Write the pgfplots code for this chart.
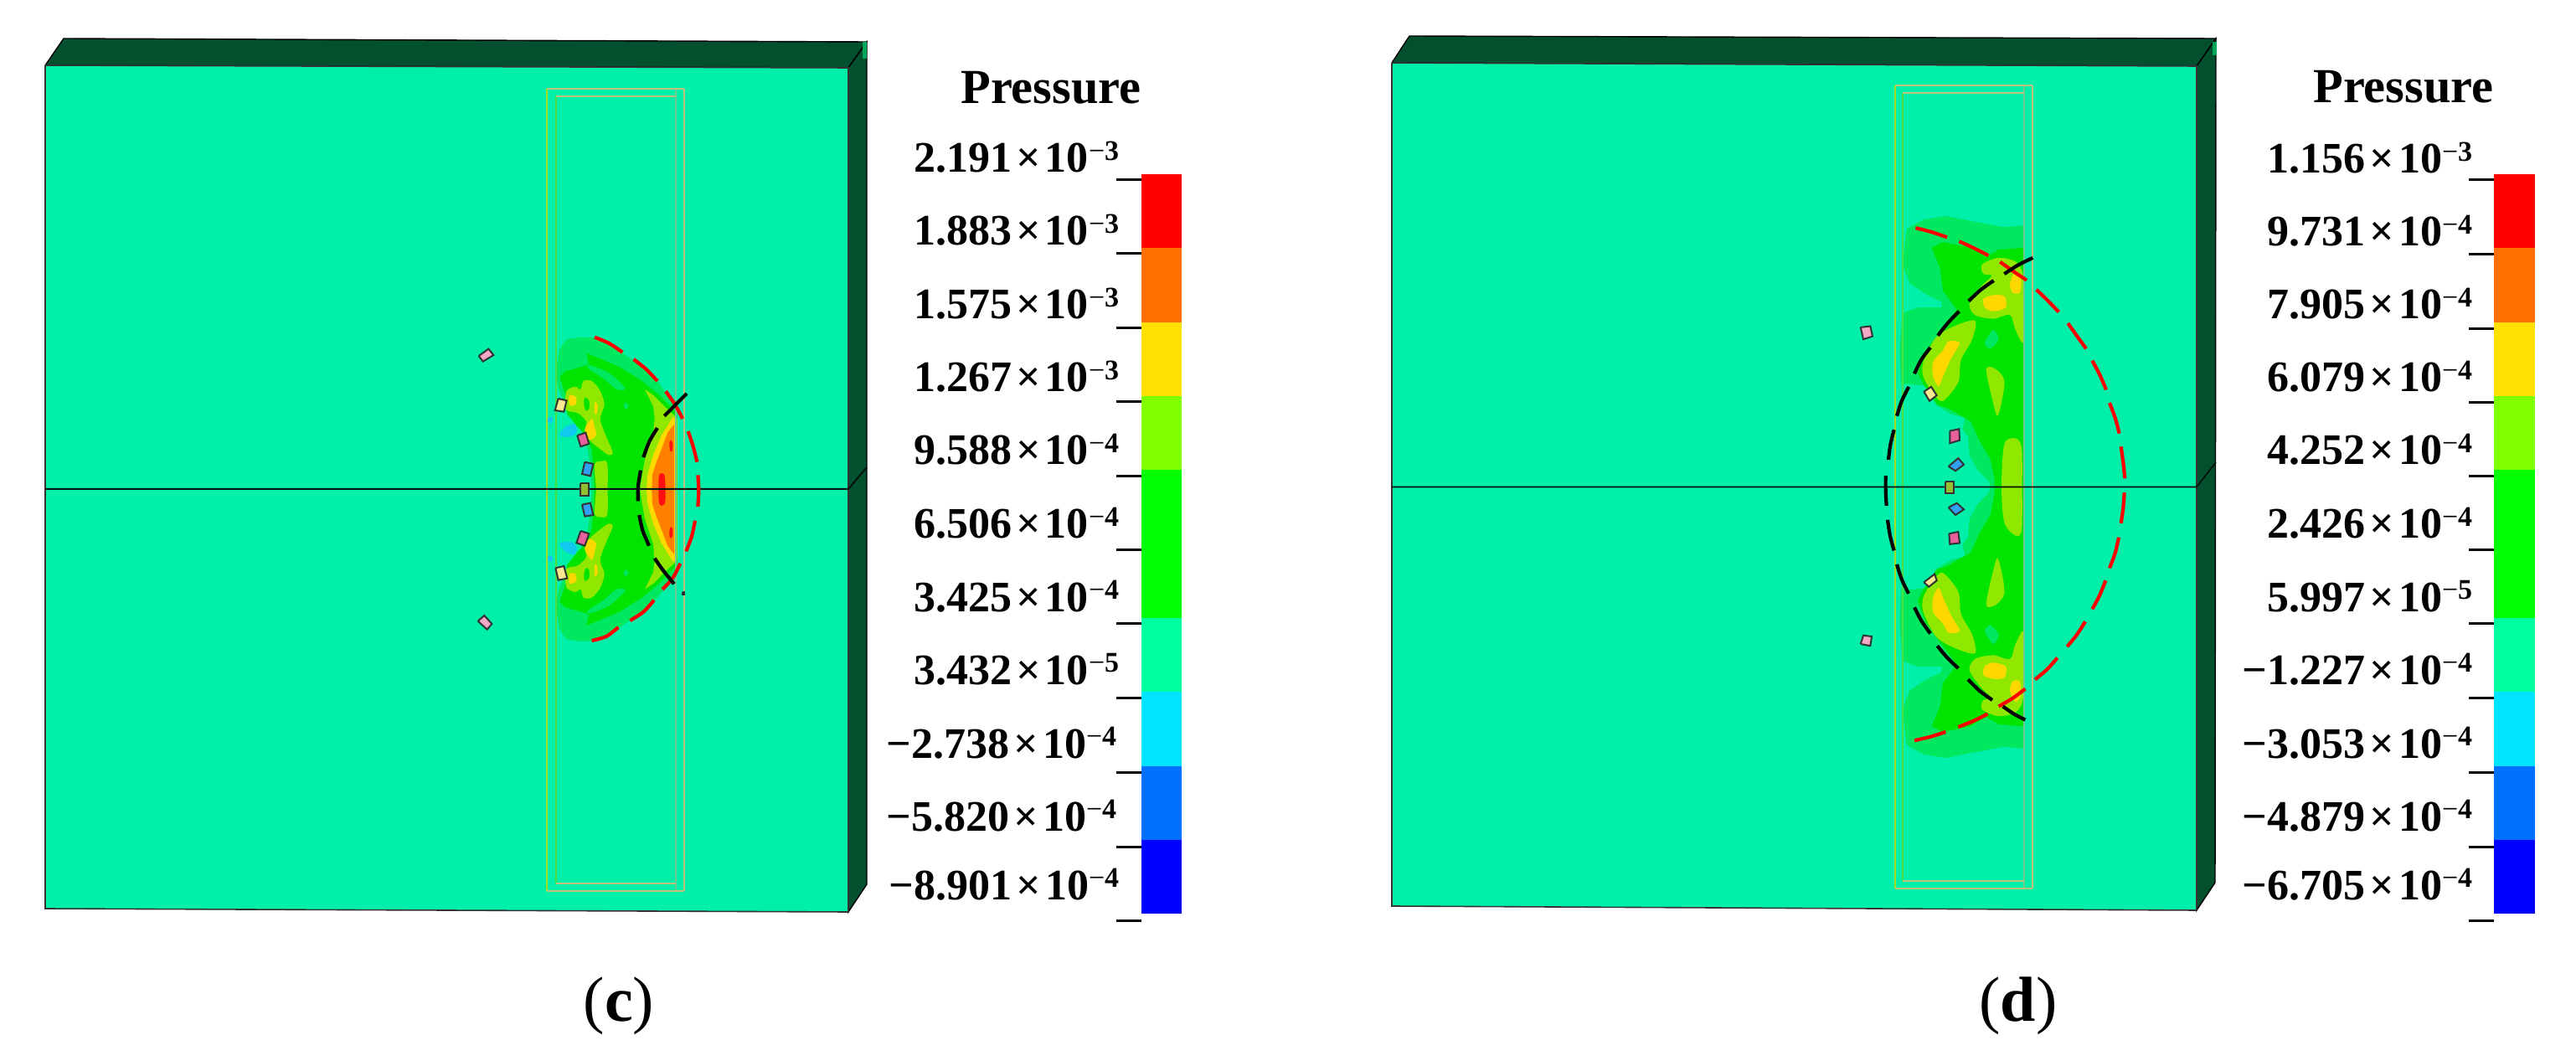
\documentclass[border=0pt]{standalone}
\usepackage{fontspec}
\setmainfont{Liberation Serif}
\usepackage{pgfplots}
\pgfplotsset{compat=1.18}
% read-off coordinates of the close-ups -> picture pixels
\pgfkeys{
 /pgfplots/table/c/.style={header=false,row sep=\\,x expr=560+\thisrowno{0}/3,y expr=350+\thisrowno{1}/3},
 /pgfplots/table/cm/.style={header=false,row sep=\\,x expr=560+\thisrowno{0}/3,y expr=350+(1406-\thisrowno{1})/3},
 /pgfplots/table/d/.style={header=false,row sep=\\,x expr=2180+\thisrowno{0}/3,y expr=240+\thisrowno{1}/2.24},
 /pgfplots/table/dm/.style={header=false,row sep=\\,x expr=2180+\thisrowno{0}/3,y expr=240+(1530-\thisrowno{1})/2.24},
 /pgfplots/table/p/.style={header=false,row sep=\\},
}
\definecolor{face}{HTML}{00F0AA}
\definecolor{dark}{HTML}{03502F}
\definecolor{lg}{HTML}{00E860}
\definecolor{gr}{HTML}{00E400}
\definecolor{lim}{HTML}{90E800}
\definecolor{yel}{HTML}{FFD800}
\definecolor{org}{HTML}{FF8000}
\definecolor{rd}{HTML}{FF1010}
\definecolor{cy}{HTML}{10C8F0}
\definecolor{lnA}{HTML}{A0E020}
\definecolor{lnB}{HTML}{50E040}
\definecolor{lnC}{HTML}{70C890}
\definecolor{lnD}{HTML}{C0C080}
\definecolor{pkL}{HTML}{F4A8C8}
\definecolor{pkS}{HTML}{E8609C}
\definecolor{blu}{HTML}{30A0F0}
\definecolor{oli}{HTML}{90C030}
\definecolor{pyl}{HTML}{F8E890}
\definecolor{barO}{HTML}{FF7000}
\definecolor{barY}{HTML}{FFE000}
\definecolor{barL}{HTML}{80FF00}
\definecolor{barG}{HTML}{00FF00}
\definecolor{barT}{HTML}{00FFA0}
\definecolor{barC}{HTML}{00E4FF}
\definecolor{barB}{HTML}{0070FF}
\definecolor{barN}{HTML}{0000FF}
\newcommand\blob[3]{\addplot[forget plot,fill=#2,draw=none,smooth cycle] table[#1]{#3};}
\newcommand\poly[3]{\addplot[forget plot,fill=#2,draw=none] table[#1]{#3};}
\newcommand\twin[3]{\blob{#1}{#2}{#3}\blob{#1m}{#2}{#3}}
\newcommand\seg[3]{\addplot[forget plot,#2,line width=1.05pt,smooth] table[#1]{#3};}
\newcommand\lin[3]{\addplot[forget plot,#2,line width=#1] table[p]{#3};}
\newcommand\chip[3]{\addplot[forget plot,fill=#2,draw=black!80,line width=0.5pt] table[#1]{#3};}
\newcommand\lab[4]{\node[anchor=base east,inner sep=0pt] at (axis cs:#1,#2) {\fontsize{13}{13}\selectfont\bfseries #3\kern1.3pt×\kern1.3pt10\raisebox{3.6pt}{\fontsize{8.5}{8.5}\selectfont\mdseries −\bfseries #4}};}
\begin{document}
\begin{tikzpicture}
\useasboundingbox (0,0) rectangle (769pt,315.25pt);
\begin{axis}[scale only axis,width=769pt,height=315.25pt,xmin=0,xmax=3076,ymin=0,ymax=1261,y dir=reverse,hide axis,clip=false]
% ---------- panel (c) block
\addplot[forget plot,fill=dark,draw=black,line width=0.35pt] table[p]{54 78\\76 46\\1035 50\\1013 81\\54 78\\};
\addplot[forget plot,fill=dark,draw=black,line width=0.35pt] table[p]{1013 81\\1035 50\\1035 1056\\1013 1089\\1013 81\\};
\addplot[forget plot,fill=face,draw=black!80,line width=0.4pt] table[p]{54 78\\1013 81\\1013 1089\\54 1085\\54 78\\};
\addplot[forget plot,fill=teal!70!green,draw=none] table[p]{1030 50\\1035 50\\1035 70\\1030 70\\};
% contours (c)
\twin{c}{cy}{325 510\\345 480\\380 470\\385 500\\360 515\\}
\twin{c}{cy}{282 448\\298 445\\300 462\\285 465\\}
\poly{c}{lg}{440 703\\435 620\\425 560\\410 510\\390 470\\355 440\\345 400\\320 340\\310 290\\325 200\\350 165\\400 158\\450 160\\550 215\\620 265\\680 320\\745 420\\745 986\\680 1086\\620 1141\\550 1191\\450 1246\\400 1248\\350 1241\\325 1206\\310 1116\\320 1066\\345 1006\\355 966\\390 936\\410 896\\425 846\\435 786\\}
\poly{c}{gr}{450 703\\445 620\\440 560\\420 510\\390 480\\350 430\\345 360\\325 300\\345 280\\400 265\\430 255\\420 215\\470 235\\540 265\\620 315\\680 365\\745 430\\745 976\\680 1041\\620 1091\\540 1141\\470 1171\\420 1191\\430 1151\\400 1141\\345 1126\\325 1106\\345 1046\\350 976\\390 926\\420 896\\440 846\\445 786\\}
\twin{c}{lg}{430 258\\500 285\\560 340\\530 345\\480 305\\430 272\\}
\twin{c}{lg}{558 392\\572 402\\565 415\\555 408\\}
\twin{c}{lim}{350 350\\380 335\\400 345\\410 315\\440 315\\470 350\\485 400\\470 450\\490 510\\515 570\\500 580\\465 555\\435 530\\415 495\\420 460\\390 430\\350 420\\345 390\\}
\twin{c}{gr}{415 375\\430 385\\430 415\\418 420\\412 395\\}
\twin{c}{yel}{360 365\\385 375\\380 400\\360 400\\}
\twin{c}{yel}{440 450\\450 480\\455 510\\430 525\\415 490\\}
\twin{c}{yel}{450 392\\460 400\\458 430\\450 432\\}
\blob{c}{lim}{450 615\\470 603\\495 608\\497 703\\495 795\\470 802\\450 790\\455 703\\}
\poly{c}{lim}{630 345\\660 365\\690 395\\720 425\\745 445\\745 961\\720 981\\690 1011\\660 1041\\630 1061\\660 1000\\665 960\\660 900\\630 810\\618 740\\612 703\\618 666\\630 596\\660 506\\665 446\\660 406\\}
\poly{c}{yel}{730 445\\745 450\\745 956\\730 961\\690 896\\660 826\\640 756\\636 703\\640 650\\660 580\\690 510\\}
\poly{c}{org}{735 470\\735 936\\712 906\\670 796\\657 756\\655 703\\657 650\\670 610\\712 500\\}
\blob{c}{rd}{680 660\\690 645\\702 660\\703 745\\690 762\\680 745\\}
\twin{c}{rd}{718 535\\724 528\\730 540\\728 565\\720 565\\}
% rectangle lines (c)
\lin{0.3pt}{lnA}{653 106\\653 1064\\}
\lin{0.3pt}{lnB}{664 115\\664 1055\\}
\lin{0.6pt}{lnC}{807 106\\807 1064\\}
\lin{0.3pt}{lnD}{817 106\\817 1064\\}
\lin{0.3pt}{lnD}{653 106\\817 106\\}
\lin{0.3pt}{lnD}{664 115\\807 115\\}
\lin{0.3pt}{lnD}{653 1064\\817 1064\\}
\lin{0.3pt}{lnD}{664 1055\\807 1055\\}
% mid line (c)
\lin{0.5pt}{black!75!dark}{54 584\\1013 584\\1035 558\\}
% chips (c)
\chip{c}{pkL}{35 225\\70 200\\88 222\\50 245\\35 225\\}
\chip{c}{pyl}{320 378\\350 385\\340 425\\308 420\\320 378\\}
\chip{c}{pkS}{388 510\\418 500\\430 540\\400 550\\388 510\\}
\chip{c}{blu}{415 605\\445 612\\435 655\\405 648\\415 605\\}
\chip{c}{oli}{398 680\\430 680\\430 725\\398 725\\398 680\\}
\chip{c}{blu}{405 758\\435 752\\445 795\\415 800\\405 758\\}
\chip{c}{pkS}{400 852\\430 862\\415 905\\385 895\\400 852\\}
\chip{c}{pyl}{310 985\\340 978\\352 1022\\320 1028\\310 985\\}
\chip{c}{pkL}{32 1175\\55 1155\\82 1185\\65 1205\\32 1175\\}
\chip{c}{black}{765 1072\\772 1072\\772 1080\\765 1080\\765 1072\\}
% dashed arcs (c)
\seg{c}{red}{450 158\\502 180\\550 212\\}
\seg{c}{red}{590 237\\635 273\\675 315\\}
\seg{c}{red}{705 352\\738 399\\765 450\\}
\seg{c}{red}{785 495\\803 549\\817 605\\}
\seg{c}{red}{820 652\\823 708\\820 765\\}
\seg{c}{red}{810 815\\798 871\\778 925\\}
\seg{c}{red}{757 968\\731 1019\\693 1062\\}
\seg{c}{red}{663 1100\\625 1142\\577 1173\\}
\seg{c}{red}{535 1197\\492 1230\\440 1245\\}
\seg{c}{black}{780 360\\740 400\\700 440\\}
\seg{c}{black}{675 483\\646 532\\625 588\\}
\seg{c}{black}{615 635\\606 690\\605 745\\}
\seg{c}{black}{610 795\\622 850\\645 905\\}
\seg{c}{black}{665 950\\696 994\\735 1042\\}
% ---------- panel (d) block
\addplot[forget plot,fill=dark,draw=black,line width=0.35pt] table[p]{1662 75\\1683 43\\2646 46\\2623 79\\1662 75\\};
\addplot[forget plot,fill=dark,draw=black,line width=0.35pt] table[p]{2623 79\\2646 46\\2645 1054\\2623 1087\\2623 79\\};
\addplot[forget plot,fill=face,draw=black!80,line width=0.4pt] table[p]{1662 75\\2623 79\\2623 1087\\1662 1082\\1662 75\\};
\addplot[forget plot,fill=teal!70!green,draw=none] table[p]{2642 50\\2647 50\\2647 66\\2642 66\\};
% contours (d)
\poly{d}{lg}{590 765\\585 750\\545 720\\515 680\\510 630\\490 610\\500 580\\450 570\\395 545\\360 495\\300 490\\270 490\\265 400\\275 300\\330 285\\415 285\\415 270\\360 250\\300 220\\275 170\\290 75\\350 50\\430 40\\530 55\\640 70\\712 65\\712 1465\\640 1460\\530 1475\\430 1490\\350 1480\\290 1455\\275 1360\\300 1310\\360 1280\\415 1260\\415 1245\\330 1245\\275 1230\\265 1130\\270 1040\\300 1040\\360 1035\\395 985\\450 960\\500 950\\490 920\\510 900\\515 850\\545 810\\585 780\\}
\poly{d}{gr}{605 765\\605 745\\590 690\\550 640\\520 590\\440 555\\400 545\\350 490\\330 460\\360 400\\420 340\\470 290\\420 240\\410 180\\380 125\\420 110\\520 125\\575 150\\620 130\\712 125\\712 1405\\620 1400\\575 1380\\520 1405\\420 1420\\380 1405\\410 1350\\420 1290\\470 1240\\420 1190\\360 1130\\330 1070\\350 1040\\400 985\\440 975\\520 940\\550 890\\590 840\\605 785\\}
\twin{d}{lg}{600 345\\620 370\\590 395\\570 380\\}
\twin{d}{lim}{560 170\\620 152\\685 165\\710 215\\710 375\\680 345\\660 305\\600 315\\535 305\\515 275\\555 230\\595 200\\565 195\\}
\twin{d}{yel}{565 262\\600 252\\640 255\\645 285\\600 295\\570 285\\}
\twin{d}{yel}{660 220\\680 190\\700 210\\695 245\\670 245\\}
\twin{d}{lim}{535 320\\525 370\\485 425\\475 485\\420 535\\385 515\\350 470\\350 430\\395 365\\460 335\\}
\twin{d}{yel}{440 375\\480 380\\450 420\\420 470\\405 495\\385 470\\385 430\\420 400\\}
\twin{d}{lim}{575 450\\610 450\\640 480\\630 540\\615 575\\600 540\\}
\blob{d}{lim}{640 650\\680 635\\702 660\\704 765\\702 880\\680 895\\640 860\\630 765\\}
% rectangle lines (d)
\lin{0.3pt}{lnA}{2263 102\\2263 1061\\}
\lin{0.3pt}{lnB}{2272 111\\2272 1052\\}
\lin{0.6pt}{lnC}{2417 102\\2417 1061\\}
\lin{0.3pt}{lnD}{2427 102\\2427 1061\\}
\lin{0.3pt}{lnD}{2263 102\\2427 102\\}
\lin{0.3pt}{lnD}{2272 111\\2417 111\\}
\lin{0.3pt}{lnD}{2263 1061\\2427 1061\\}
\lin{0.3pt}{lnD}{2272 1052\\2417 1052\\}
% mid line (d)
\lin{0.4pt}{black!80!dark}{1662 581.5\\2623 581.5\\2646 552\\}
% chips (d)
\chip{d}{pkL}{125 338\\160 335\\168 362\\135 370\\125 338\\}
\chip{d}{pkL}{125 1185\\135 1162\\165 1165\\160 1190\\125 1185\\}
\chip{d}{pyl}{352 510\\378 497\\398 520\\372 535\\352 510\\}
\chip{d}{pyl}{352 1020\\390 998\\398 1015\\370 1032\\352 1020\\}
\chip{d}{pkS}{445 615\\478 610\\480 640\\445 648\\445 615\\}
\chip{d}{pkS}{442 890\\475 885\\480 915\\445 918\\442 890\\}
\chip{d}{blu}{440 710\\475 688\\495 705\\465 722\\440 710\\}
\chip{d}{blu}{440 820\\470 808\\495 825\\465 840\\440 820\\}
\chip{d}{oli}{428 750\\460 750\\460 782\\428 782\\428 750\\}
% dashed arcs (d)
\seg{d}{red}{322 72\\379 83\\435 97\\}
\seg{d}{red}{478 108\\531 126\\583 146\\}
\seg{d}{red}{625 163\\672 188\\720 212\\}
\seg{d}{red}{755 237\\795 266\\835 297\\}
\seg{d}{red}{868 327\\900 361\\933 395\\}
\seg{d}{red}{955 427\\982 465\\1005 505\\}
\seg{d}{red}{1017 540\\1037 580\\1052 622\\}
\seg{d}{red}{1058 657\\1066 700\\1072 742\\}
\seg{d}{red}{1070 780\\1066 821\\1058 862\\}
\seg{d}{red}{1050 900\\1037 942\\1017 982\\}
\seg{d}{red}{1003 1015\\982 1054\\955 1092\\}
\seg{d}{red}{930 1125\\900 1160\\865 1192\\}
\seg{d}{red}{830 1222\\793 1253\\750 1280\\}
\seg{d}{red}{715 1305\\670 1330\\620 1352\\}
\seg{d}{red}{580 1372\\529 1391\\475 1407\\}
\seg{d}{red}{430 1420\\376 1433\\318 1443\\}
\seg{d}{black}{742 152\\688 172\\640 195\\}
\seg{d}{black}{602 213\\555 238\\512 268\\}
\seg{d}{black}{478 295\\438 326\\402 360\\}
\seg{d}{black}{375 392\\343 424\\318 462\\}
\seg{d}{black}{298 497\\273 534\\255 575\\}
\seg{d}{black}{245 612\\232 652\\225 692\\}
\seg{d}{black}{215 735\\215 775\\218 815\\}
\seg{d}{black}{222 853\\231 896\\245 935\\}
\seg{d}{black}{255 972\\273 1013\\297 1050\\}
\seg{d}{black}{318 1087\\343 1123\\375 1157\\}
\seg{d}{black}{400 1190\\436 1222\\475 1250\\}
\seg{d}{black}{510 1280\\551 1310\\597 1335\\}
\seg{d}{black}{635 1352\\674 1372\\715 1388\\}
% ---------- colour bars
\poly{p}{red}{1363 208\\1411 208\\1411 296\\1363 296\\}
\poly{p}{barO}{1363 296\\1411 296\\1411 385\\1363 385\\}
\poly{p}{barY}{1363 385\\1411 385\\1411 473\\1363 473\\}
\poly{p}{barL}{1363 473\\1411 473\\1411 561\\1363 561\\}
\poly{p}{barG}{1363 561\\1411 561\\1411 738\\1363 738\\}
\poly{p}{barT}{1363 738\\1411 738\\1411 826\\1363 826\\}
\poly{p}{barC}{1363 826\\1411 826\\1411 915\\1363 915\\}
\poly{p}{barB}{1363 915\\1411 915\\1411 1003\\1363 1003\\}
\poly{p}{barN}{1363 1003\\1411 1003\\1411 1091\\1363 1091\\}
\poly{p}{red}{2978 208\\3027 208\\3027 296\\2978 296\\}
\poly{p}{barO}{2978 296\\3027 296\\3027 385\\2978 385\\}
\poly{p}{barY}{2978 385\\3027 385\\3027 473\\2978 473\\}
\poly{p}{barL}{2978 473\\3027 473\\3027 561\\2978 561\\}
\poly{p}{barG}{2978 561\\3027 561\\3027 738\\2978 738\\}
\poly{p}{barT}{2978 738\\3027 738\\3027 826\\2978 826\\}
\poly{p}{barC}{2978 826\\3027 826\\3027 915\\2978 915\\}
\poly{p}{barB}{2978 915\\3027 915\\3027 1003\\2978 1003\\}
\poly{p}{barN}{2978 1003\\3027 1003\\3027 1091\\2978 1091\\}
% ticks
\lin{0.75pt}{black}{1333 215\\1363 215\\}\lin{0.75pt}{black}{1333 303\\1363 303\\}\lin{0.75pt}{black}{1333 392\\1363 392\\}\lin{0.75pt}{black}{1333 480\\1363 480\\}\lin{0.75pt}{black}{1333 569\\1363 569\\}\lin{0.75pt}{black}{1333 657\\1363 657\\}\lin{0.75pt}{black}{1333 745\\1363 745\\}\lin{0.75pt}{black}{1333 834\\1363 834\\}\lin{0.75pt}{black}{1333 922\\1363 922\\}\lin{0.75pt}{black}{1333 1011\\1363 1011\\}\lin{0.75pt}{black}{1333 1099\\1363 1099\\}
\lin{0.75pt}{black}{2948 215\\2978 215\\}\lin{0.75pt}{black}{2948 304\\2978 304\\}\lin{0.75pt}{black}{2948 393\\2978 393\\}\lin{0.75pt}{black}{2948 481\\2978 481\\}\lin{0.75pt}{black}{2948 569\\2978 569\\}\lin{0.75pt}{black}{2948 657\\2978 657\\}\lin{0.75pt}{black}{2948 745\\2978 745\\}\lin{0.75pt}{black}{2948 834\\2978 834\\}\lin{0.75pt}{black}{2948 922\\2978 922\\}\lin{0.75pt}{black}{2948 1011\\2978 1011\\}\lin{0.75pt}{black}{2948 1099\\2978 1099\\}
% text
\node[anchor=base,inner sep=0pt] at (axis cs:1255,124) {\fontsize{14.6}{14.6}\selectfont\bfseries Pressure};
\node[anchor=base,inner sep=0pt] at (axis cs:2870,123) {\fontsize{14.6}{14.6}\selectfont\bfseries Pressure};
\lab{1337}{206}{2.191}{3}\lab{1337}{293}{1.883}{3}\lab{1337}{381}{1.575}{3}\lab{1337}{468}{1.267}{3}\lab{1337}{555}{9.588}{4}\lab{1337}{643}{6.506}{4}\lab{1337}{730}{3.425}{4}\lab{1337}{817}{3.432}{5}\lab{1334}{905}{−2.738}{4}\lab{1334}{992}{−5.820}{4}\lab{1337}{1074}{−8.901}{4}
\lab{2953}{207}{1.156}{3}\lab{2953}{294}{9.731}{4}\lab{2953}{381}{7.905}{4}\lab{2953}{468}{6.079}{4}\lab{2953}{555}{4.252}{4}\lab{2953}{643}{2.426}{4}\lab{2953}{730}{5.997}{5}\lab{2953}{817}{−1.227}{4}\lab{2953}{905}{−3.053}{4}\lab{2953}{992}{−4.879}{4}\lab{2953}{1074}{−6.705}{4}
\node[anchor=base,inner sep=0pt] at (axis cs:739,1219) {\fontsize{19}{19}\selectfont(\textbf{c})};
\node[anchor=base,inner sep=0pt] at (axis cs:2410,1219) {\fontsize{19}{19}\selectfont(\textbf{d})};
\end{axis}
\end{tikzpicture}
\end{document}
